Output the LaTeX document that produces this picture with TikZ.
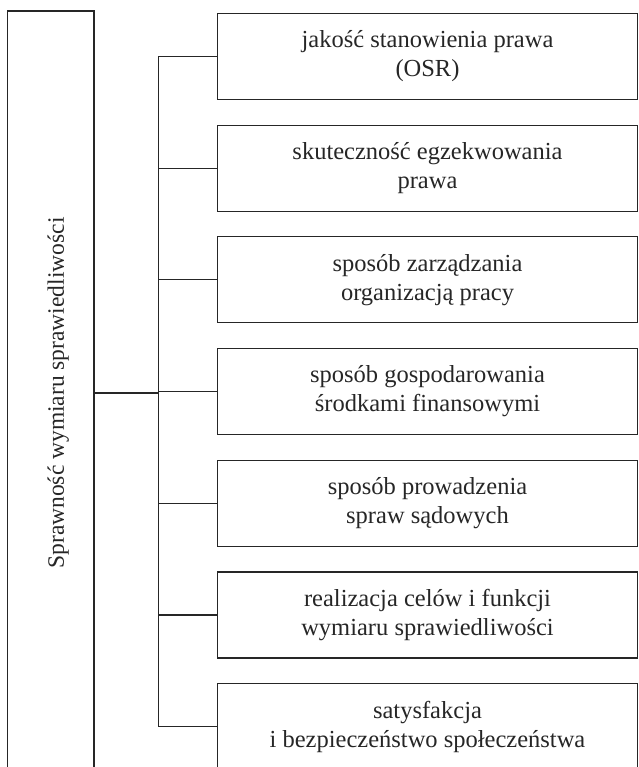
\documentclass[tikz,border=0pt]{standalone}
\usepackage{fontspec}
\setmainfont{Liberation Serif}
\usetikzlibrary{positioning}

\begin{document}
\begin{tikzpicture}
  [  
     x=1pt, y=-1pt,
     line width=1.1pt,
     every node/.style={font=\fontsize{24.5}{29}\selectfont,
                  text=black!85},
     kol/.style={draw=black!85,
                  rectangle,
                  minimum width=86.5pt,
                  minimum height=764pt,
                  inner sep=0pt},
     pole/.style={draw=black!85,
                  rectangle,
                  minimum width=420pt,
                  minimum height=86pt,
                  align=center,
                  inner sep=0pt},
     galaz/.style={draw=black!85}
  ]
    \useasboundingbox (0,0) rectangle (638,767);
    \clip (0,0) rectangle (638,767);
    % lewa kolumna
    \node[kol] (spr) at (50.75,393) {\rotatebox{90}{\raisebox{-9pt}[12pt][4pt]{\fontsize{23.5}{28}\selectfont Sprawność wymiaru sprawiedliwości}}};
    \coordinate (pien) at (158.5,0);
    % pola po prawej
    \foreach \i/\tekst in {1/{jakość stanowienia prawa\\(OSR)},
                           2/{skuteczność egzekwowania\\prawa},
                           3/{sposób zarządzania\\organizacją pracy},
                           4/{sposób gospodarowania\\środkami finansowymi},
                           5/{sposób prowadzenia\\spraw sądowych},
                           6/{realizacja celów i funkcji\\wymiaru sprawiedliwości},
                           7/{satysfakcja\\i bezpieczeństwo społeczeństwa}}{
        \node[pole] (p\i) at (427.5,{56.5+111.7*(\i-1)}) {\tekst};
        \draw[galaz] (p\i.west) -- (p\i.west -| pien);
    }
    \draw[galaz] (p1.west -| pien) -- (p7.west -| pien);
    \draw[galaz] (spr.east) -- (spr.east -| pien);
\end{tikzpicture}
\end{document}
